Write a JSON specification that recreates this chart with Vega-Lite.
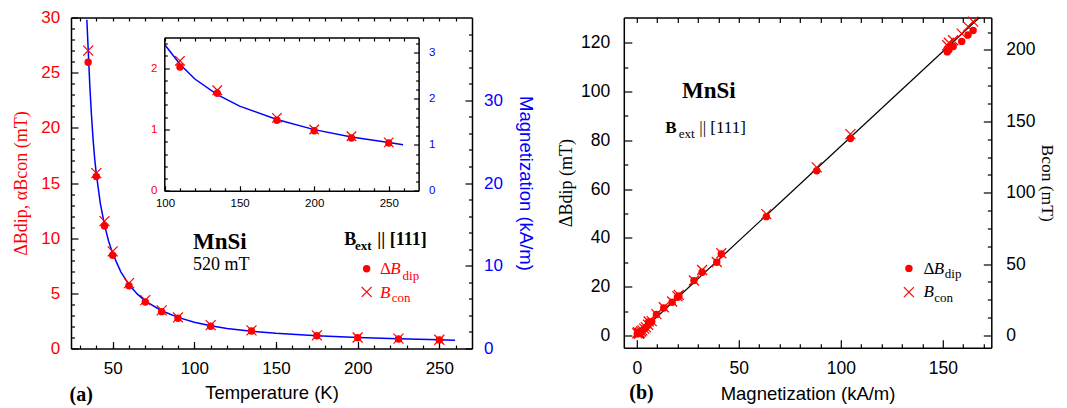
{
"$schema": "https://vega.github.io/schema/vega-lite/v6.json",
"padding": {"left": 12, "top": 8.5, "right": 0, "bottom": 0},
"background": "white",
"spacing": 151.8,
"bounds": "flush",
"datasets": {
 "tdep": [
  {"T":35,"dip":25.95,"con":27.0},{"T":40,"dip":15.6,"con":15.9},{"T":45,"dip":11.1,"con":11.55},{"T":50,"dip":8.45,"con":8.8},
  {"T":60,"dip":5.68,"con":5.93},{"T":70,"dip":4.22,"con":4.38},{"T":80,"dip":3.34,"con":3.45},{"T":90,"dip":2.74,"con":2.82},
  {"T":110,"dip":2.02,"con":2.12},{"T":135,"dip":1.59,"con":1.64},{"T":175,"dip":1.15,"con":1.19},{"T":200,"dip":0.98,"con":1.0},
  {"T":225,"dip":0.86,"con":0.89},{"T":250,"dip":0.78,"con":0.79}
 ],
 "curve": [
  {"T":34.2,"M":39.73},{"T":35,"M":36.27},{"T":36,"M":31.87},{"T":37,"M":28.27},{"T":38,"M":25.33},{"T":39,"M":22.93},
  {"T":40,"M":21.07},{"T":42.5,"M":17.47},{"T":45,"M":14.93},{"T":47.5,"M":13.0},{"T":50,"M":11.47},{"T":55,"M":9.27},
  {"T":60,"M":7.73},{"T":65,"M":6.6},{"T":70,"M":5.73},{"T":80,"M":4.56},{"T":90,"M":3.76},{"T":100,"M":3.17},
  {"T":110,"M":2.75},{"T":120,"M":2.43},{"T":135,"M":2.09},{"T":150,"M":1.84},{"T":175,"M":1.55},{"T":200,"M":1.33},
  {"T":225,"M":1.17},{"T":250,"M":1.05},{"T":259.6,"M":1.0}
 ],
 "mb": [
  {"M":164.9,"dip":125.0,"con":219.8},{"M":162.4,"dip":123.1,"con":216.3},{"M":159.3,"dip":120.5,"con":211.4},
  {"M":155.1,"dip":118.4,"con":206.8},{"M":153.0,"dip":117.0,"con":205.0},{"M":152.2,"dip":116.2,"con":203.3},
  {"M":104.7,"dip":80.7,"con":141.0},{"M":88.2,"dip":67.5,"con":117.7},{"M":63.5,"dip":48.7,"con":85.0},
  {"M":41.4,"dip":33.4,"con":57.6},{"M":39.2,"dip":30.0,"con":51.5},{"M":32.0,"dip":25.9,"con":45.9},
  {"M":28.0,"dip":22.5,"con":38.5},{"M":20.6,"dip":16.2,"con":28.4},{"M":19.9,"dip":15.7,"con":27.5},
  {"M":17.3,"dip":13.6,"con":23.8},{"M":13.2,"dip":11.3,"con":19.8},{"M":9.6,"dip":8.6,"con":15.0},
  {"M":7.3,"dip":5.7,"con":10.1},{"M":5.8,"dip":5.5,"con":9.8},{"M":5.5,"dip":4.2,"con":7.5},
  {"M":4.4,"dip":3.3,"con":5.9},{"M":3.6,"dip":2.7,"con":4.8},{"M":2.7,"dip":2.0,"con":3.6},
  {"M":2.1,"dip":1.6,"con":2.8},{"M":1.5,"dip":1.15,"con":2.0},{"M":1.3,"dip":1.0,"con":1.7},
  {"M":1.1,"dip":0.86,"con":1.5},{"M":1.0,"dip":0.78,"con":1.35},{"M":0.5,"dip":1.0,"con":2.4},{"M":0.2,"dip":0.7,"con":1.5}
 ],
 "fit": [{"M":0,"dB":0},{"M":168,"dB":130.3}]
},
"hconcat": [
 {
  "width": 401, "height": 331,
  "resolve": {"scale": {"x": "independent", "y": "independent"}, "axis": {"x": "independent", "y": "independent"}},
  "layer": [
   {"data": {"name": "curve"}, "mark": {"type": "line", "color": "#0000ff", "strokeWidth": 1.5},
    "encoding": {
     "x": {"field": "T", "type": "quantitative", "scale": {"domain": [24.5, 270], "nice": false, "zero": false},
           "axis": {"orient": "top", "values": [30,40,50,60,70,80,90,100,110,120,130,140,150,160,170,180,190,200,210,220,230,240,250,260], "labels": false, "tickSize": -3.5, "title": null}},
     "y": {"field": "M", "type": "quantitative", "scale": {"domain": [0, 40], "nice": false, "zero": false},
           "axis": {"orient": "right", "values": [0,10,20,30], "tickSize": -7, "labelPadding": 18.6, "labelColor": "#0000ff", "title": "Magnetization (kA/m)", "titleColor": "#0000ff", "titlePadding": 13}}}},
   {"data": {"name": "curve"}, "mark": {"type": "line", "opacity": 0},
    "encoding": {
     "x": {"field": "T", "type": "quantitative", "scale": {"domain": [24.5, 270], "nice": false, "zero": false}, "axis": null},
     "y": {"field": "M", "type": "quantitative", "scale": {"domain": [0, 40], "nice": false, "zero": false},
           "axis": {"orient": "right", "values": [2,4,6,8,12,14,16,18,22,24,26,28,32,34,36,38], "labels": false, "tickSize": -3.5, "domain": false, "title": null}}}},
   {"data": {"name": "tdep"}, "mark": {"type": "point", "shape": "M-1,-1L1,1M-1,1L1,-1", "filled": false, "color": "#ff0000", "strokeWidth": 1.2, "size": 100, "opacity": 1},
    "encoding": {
     "x": {"field": "T", "type": "quantitative", "scale": {"domain": [24.5, 270], "nice": false, "zero": false},
           "axis": {"orient": "bottom", "values": [30,40,50,60,70,80,90,100,110,120,130,140,150,160,170,180,190,200,210,220,230,240,250,260], "labels": false, "tickSize": -3.5, "domain": false, "title": null}},
     "y": {"field": "con", "type": "quantitative", "scale": {"domain": [0, 30], "nice": false, "zero": false},
           "axis": {"orient": "left", "values": [1,2,3,4,6,7,8,9,11,12,13,14,16,17,18,19,21,22,23,24,26,27,28,29], "labels": false, "tickSize": -3.5, "domain": false, "title": null}}}},
   {"data": {"name": "tdep"}, "mark": {"type": "point", "shape": "circle", "filled": true, "color": "#ff0000", "size": 55, "opacity": 1},
    "encoding": {
     "x": {"field": "T", "type": "quantitative", "scale": {"domain": [24.5, 270], "nice": false, "zero": false},
           "axis": {"orient": "bottom", "values": [50,100,150,200,250], "tickSize": -7, "labelPadding": 18.5, "title": "Temperature (K)", "titlePadding": 7.5}},
     "y": {"field": "dip", "type": "quantitative", "scale": {"domain": [0, 30], "nice": false, "zero": false},
           "axis": {"orient": "left", "values": [0,5,10,15,20,25,30], "tickSize": -7, "labelPadding": 18.4, "labelColor": "#ff0000", "title": "ΔBdip, αBcon (mT)", "titleColor": "#ff0000", "titleFont": "Liberation Serif", "titleFontSize": 18, "titlePadding": 10}}}},
   {"data": {"name": "curve"}, "transform": [{"filter": "datum.T >= 100"}], "mark": {"type": "line", "color": "#0000ff", "strokeWidth": 1.5},
    "encoding": {
     "x": {"field": "T", "type": "quantitative", "scale": {"domain": [99.5, 270], "range": [93.3, 347.6], "nice": false, "zero": false},
           "axis": {"orient": "top", "offset": -20, "values": [100,110,120,130,140,150,160,170,180,190,200,210,220,230,240,250,260], "labels": false, "tickSize": -3.5, "title": null}},
     "y": {"field": "M", "type": "quantitative", "scale": {"domain": [0, 3.3333], "range": [173.3, 20], "nice": false, "zero": false},
           "axis": {"orient": "right", "offset": -53.4, "values": [0,1,2,3], "tickSize": -5, "labelPadding": 15, "labelColor": "#0000ff", "labelFontSize": 11.5, "title": null}}}},
   {"data": {"name": "curve"}, "transform": [{"filter": "datum.T >= 100"}], "mark": {"type": "line", "opacity": 0},
    "encoding": {
     "x": {"field": "T", "type": "quantitative", "scale": {"domain": [99.5, 270], "range": [93.3, 347.6], "nice": false, "zero": false}, "axis": null},
     "y": {"field": "M", "type": "quantitative", "scale": {"domain": [0, 3.3333], "range": [173.3, 20], "nice": false, "zero": false},
           "axis": {"orient": "right", "offset": -53.4, "values": [0.2,0.4,0.6,0.8,1.2,1.4,1.6,1.8,2.2,2.4,2.6,2.8,3.2], "labels": false, "tickSize": -3, "domain": false, "title": null}}}},
   {"data": {"name": "tdep"}, "transform": [{"filter": "datum.T >= 100"}], "mark": {"type": "point", "shape": "M-1,-1L1,1M-1,1L1,-1", "filled": false, "color": "#ff0000", "strokeWidth": 1.2, "size": 90, "opacity": 1},
    "encoding": {
     "x": {"field": "T", "type": "quantitative", "scale": {"domain": [99.5, 270], "range": [93.3, 347.6], "nice": false, "zero": false},
           "axis": {"orient": "bottom", "offset": -157.7, "values": [110,120,130,140,160,170,180,190,210,220,230,240,260], "labels": false, "tickSize": -3, "domain": false, "title": null}},
     "y": {"field": "con", "type": "quantitative", "scale": {"domain": [0, 2.5], "range": [173.3, 20], "nice": false, "zero": false},
           "axis": {"orient": "left", "offset": -93.3, "values": [0.2,0.4,0.6,0.8,1.2,1.4,1.6,1.8,2.2,2.4], "labels": false, "tickSize": -3, "domain": false, "title": null}}}},
   {"data": {"name": "tdep"}, "transform": [{"filter": "datum.T >= 100"}], "mark": {"type": "point", "shape": "circle", "filled": true, "color": "#ff0000", "size": 55, "opacity": 1},
    "encoding": {
     "x": {"field": "T", "type": "quantitative", "scale": {"domain": [99.5, 270], "range": [93.3, 347.6], "nice": false, "zero": false},
           "axis": {"orient": "bottom", "offset": -157.7, "values": [100,150,200,250], "tickSize": -5, "labelPadding": 11.7, "labelFontSize": 11.5, "title": null}},
     "y": {"field": "dip", "type": "quantitative", "scale": {"domain": [0, 2.5], "range": [173.3, 20], "nice": false, "zero": false},
           "axis": {"orient": "left", "offset": -93.3, "values": [0,1,2], "tickSize": -5, "labelPadding": 12.3, "labelColor": "#ff0000", "labelFontSize": 11.5, "title": null}}}},
   {"data": {"values": [{"x": 99.2, "y": 9.02, "t": "MnSi"}]},
    "mark": {"type": "text", "font": "Liberation Serif", "fontSize": 23, "fontWeight": "bold", "align": "left", "baseline": "alphabetic", "color": "#000000"},
    "encoding": {"x": {"field": "x", "type": "quantitative", "scale": {"domain": [24.5, 270], "nice": false, "zero": false}, "axis": null},
                 "y": {"field": "y", "type": "quantitative", "scale": {"domain": [0, 30], "nice": false, "zero": false}, "axis": null},
                 "text": {"field": "t"}}},
   {"data": {"values": [{"x": 99.2, "y": 7.08, "t": "520 mT"}]},
    "mark": {"type": "text", "font": "Liberation Serif", "fontSize": 18, "align": "left", "baseline": "alphabetic", "color": "#000000"},
    "encoding": {"x": {"field": "x", "type": "quantitative", "scale": {"domain": [24.5, 270], "nice": false, "zero": false}, "axis": null},
                 "y": {"field": "y", "type": "quantitative", "scale": {"domain": [0, 30], "nice": false, "zero": false}, "axis": null},
                 "text": {"field": "t"}}},
   {"data": {"values": [{"x": 191.8, "y": 9.36, "t": "B"}, {"x": 212.0, "y": 9.36, "t": "|| [111]"}]},
    "mark": {"type": "text", "font": "Liberation Serif", "fontSize": 18, "fontWeight": "bold", "align": "left", "baseline": "alphabetic", "color": "#000000"},
    "encoding": {"x": {"field": "x", "type": "quantitative", "scale": {"domain": [24.5, 270], "nice": false, "zero": false}, "axis": null},
                 "y": {"field": "y", "type": "quantitative", "scale": {"domain": [0, 30], "nice": false, "zero": false}, "axis": null},
                 "text": {"field": "t"}}},
   {"data": {"values": [{"x": 198.3, "y": 8.9, "t": "ext"}]},
    "mark": {"type": "text", "font": "Liberation Serif", "fontSize": 13, "fontWeight": "bold", "align": "left", "baseline": "alphabetic", "color": "#000000"},
    "encoding": {"x": {"field": "x", "type": "quantitative", "scale": {"domain": [24.5, 270], "nice": false, "zero": false}, "axis": null},
                 "y": {"field": "y", "type": "quantitative", "scale": {"domain": [0, 30], "nice": false, "zero": false}, "axis": null},
                 "text": {"field": "t"}}},
   {"data": {"values": [{"x": 213.6, "y": 6.77, "t": "Δ"}]},
    "mark": {"type": "text", "font": "Liberation Serif", "fontSize": 17, "align": "left", "baseline": "alphabetic", "color": "#ff0000"},
    "encoding": {"x": {"field": "x", "type": "quantitative", "scale": {"domain": [24.5, 270], "nice": false, "zero": false}, "axis": null},
                 "y": {"field": "y", "type": "quantitative", "scale": {"domain": [0, 30], "nice": false, "zero": false}, "axis": null},
                 "text": {"field": "t"}}},
   {"data": {"values": [{"x": 220.0, "y": 6.77, "t": "B"}, {"x": 213.6, "y": 4.59, "t": "B"}]},
    "mark": {"type": "text", "font": "Liberation Serif", "fontSize": 17, "fontStyle": "italic", "align": "left", "baseline": "alphabetic", "color": "#ff0000"},
    "encoding": {"x": {"field": "x", "type": "quantitative", "scale": {"domain": [24.5, 270], "nice": false, "zero": false}, "axis": null},
                 "y": {"field": "y", "type": "quantitative", "scale": {"domain": [0, 30], "nice": false, "zero": false}, "axis": null},
                 "text": {"field": "t"}}},
   {"data": {"values": [{"x": 227.5, "y": 6.2, "t": "dip"}, {"x": 220.8, "y": 4.22, "t": "con"}]},
    "mark": {"type": "text", "font": "Liberation Serif", "fontSize": 13, "align": "left", "baseline": "alphabetic", "color": "#ff0000"},
    "encoding": {"x": {"field": "x", "type": "quantitative", "scale": {"domain": [24.5, 270], "nice": false, "zero": false}, "axis": null},
                 "y": {"field": "y", "type": "quantitative", "scale": {"domain": [0, 30], "nice": false, "zero": false}, "axis": null},
                 "text": {"field": "t"}}},
   {"data": {"values": [{"x": 205.5, "y": 7.23}]},
    "mark": {"type": "point", "shape": "circle", "filled": true, "color": "#ff0000", "size": 55, "opacity": 1},
    "encoding": {"x": {"field": "x", "type": "quantitative", "scale": {"domain": [24.5, 270], "nice": false, "zero": false}, "axis": null},
                 "y": {"field": "y", "type": "quantitative", "scale": {"domain": [0, 30], "nice": false, "zero": false}, "axis": null}}},
   {"data": {"values": [{"x": 205.5, "y": 5.13}]},
    "mark": {"type": "point", "shape": "M-1,-1L1,1M-1,1L1,-1", "filled": false, "color": "#ff0000", "strokeWidth": 1.2, "size": 100, "opacity": 1},
    "encoding": {"x": {"field": "x", "type": "quantitative", "scale": {"domain": [24.5, 270], "nice": false, "zero": false}, "axis": null},
                 "y": {"field": "y", "type": "quantitative", "scale": {"domain": [0, 30], "nice": false, "zero": false}, "axis": null}}},
   {"data": {"values": [{"x": 23.6, "y": -4.74, "t": "(a)"}]},
    "mark": {"type": "text", "font": "Liberation Serif", "fontSize": 20, "fontWeight": "bold", "align": "left", "baseline": "alphabetic", "color": "#000000"},
    "encoding": {"x": {"field": "x", "type": "quantitative", "scale": {"domain": [24.5, 270], "nice": false, "zero": false}, "axis": null},
                 "y": {"field": "y", "type": "quantitative", "scale": {"domain": [0, 30], "nice": false, "zero": false}, "axis": null},
                 "text": {"field": "t"}}}
  ]
 },
 {
  "width": 367.5, "height": 330.2,
  "resolve": {"scale": {"x": "independent", "y": "independent"}, "axis": {"x": "independent", "y": "independent"}},
  "layer": [
   {"data": {"name": "fit"}, "mark": {"type": "line", "color": "#000000", "strokeWidth": 1.2},
    "encoding": {
     "x": {"field": "M", "type": "quantitative", "scale": {"domain": [-6.4, 173.8], "nice": false, "zero": false},
           "axis": {"orient": "top", "values": [0,10,20,30,40,50,60,70,80,90,100,110,120,130,140,150,160,170], "labels": false, "tickSize": -5, "title": null}},
     "y": {"field": "dB", "type": "quantitative", "scale": {"domain": [-5, 130.3], "nice": false, "zero": false},
           "axis": {"orient": "left", "values": [10,30,50,70,90,110], "labels": false, "tickSize": -4, "domain": false, "title": null}}}},
   {"data": {"name": "mb"}, "mark": {"type": "point", "shape": "M-1,-1L1,1M-1,1L1,-1", "filled": false, "color": "#ff0000", "strokeWidth": 1.2, "size": 100, "opacity": 1},
    "encoding": {
     "x": {"field": "M", "type": "quantitative", "scale": {"domain": [-6.4, 173.8], "nice": false, "zero": false},
           "axis": {"orient": "bottom", "values": [10,20,30,40,60,70,80,90,110,120,130,140,160,170], "labels": false, "tickSize": -4, "domain": false, "title": null}},
     "y": {"field": "con", "type": "quantitative", "scale": {"domain": [-8.55, 222.7], "nice": false, "zero": false},
           "axis": {"orient": "right", "values": [0,50,100,150,200], "tickSize": -8, "labelPadding": 22.5, "labelFontSize": 17.5, "title": "Bcon (mT)", "titleFont": "Liberation Serif", "titleFontSize": 17.5, "titlePadding": 3}}}},
   {"data": {"name": "mb"}, "mark": {"type": "point", "opacity": 0},
    "encoding": {
     "x": {"field": "M", "type": "quantitative", "scale": {"domain": [-6.4, 173.8], "nice": false, "zero": false}, "axis": null},
     "y": {"field": "con", "type": "quantitative", "scale": {"domain": [-8.55, 222.7], "nice": false, "zero": false},
           "axis": {"orient": "right", "values": [12.5,25,37.5,62.5,75,87.5,112.5,125,137.5,162.5,175,187.5,212.5], "labels": false, "tickSize": -4, "domain": false, "title": null}}}},
   {"data": {"name": "mb"}, "mark": {"type": "point", "shape": "circle", "filled": true, "color": "#ff0000", "size": 55, "opacity": 1},
    "encoding": {
     "x": {"field": "M", "type": "quantitative", "scale": {"domain": [-6.4, 173.8], "nice": false, "zero": false},
           "axis": {"orient": "bottom", "values": [0,50,100,150], "tickSize": -8, "labelPadding": 19.5, "labelFontSize": 17.5, "title": "Magnetization (kA/m)", "titlePadding": 7.5}},
     "y": {"field": "dip", "type": "quantitative", "scale": {"domain": [-5, 130.3], "nice": false, "zero": false},
           "axis": {"orient": "left", "values": [0,20,40,60,80,100,120], "tickSize": -8, "labelPadding": 22, "labelFontSize": 17.5, "title": "ΔBdip (mT)", "titleFont": "Liberation Serif", "titleFontSize": 18, "titlePadding": 5}}}},
   {"data": {"values": [{"x": 22.1, "y": 97.5, "t": "MnSi"}]},
    "mark": {"type": "text", "font": "Liberation Serif", "fontSize": 23, "fontWeight": "bold", "align": "left", "baseline": "alphabetic", "color": "#000000"},
    "encoding": {"x": {"field": "x", "type": "quantitative", "scale": {"domain": [-6.4, 173.8], "nice": false, "zero": false}, "axis": null},
                 "y": {"field": "y", "type": "quantitative", "scale": {"domain": [-5, 130.3], "nice": false, "zero": false}, "axis": null},
                 "text": {"field": "t"}}},
   {"data": {"values": [{"x": 13.95, "y": 83.1, "t": "B"}]},
    "mark": {"type": "text", "font": "Liberation Serif", "fontSize": 17, "fontWeight": "bold", "align": "left", "baseline": "alphabetic", "color": "#000000"},
    "encoding": {"x": {"field": "x", "type": "quantitative", "scale": {"domain": [-6.4, 173.8], "nice": false, "zero": false}, "axis": null},
                 "y": {"field": "y", "type": "quantitative", "scale": {"domain": [-5, 130.3], "nice": false, "zero": false}, "axis": null},
                 "text": {"field": "t"}}},
   {"data": {"values": [{"x": 30.6, "y": 83.1, "t": "|| [111]"}, {"x": 140.5, "y": 25.3, "t": "Δ"}]},
    "mark": {"type": "text", "font": "Liberation Serif", "fontSize": 17, "align": "left", "baseline": "alphabetic", "color": "#000000"},
    "encoding": {"x": {"field": "x", "type": "quantitative", "scale": {"domain": [-6.4, 173.8], "nice": false, "zero": false}, "axis": null},
                 "y": {"field": "y", "type": "quantitative", "scale": {"domain": [-5, 130.3], "nice": false, "zero": false}, "axis": null},
                 "text": {"field": "t"}}},
   {"data": {"values": [{"x": 20.5, "y": 81.1, "t": "ext"}, {"x": 151.0, "y": 23.7, "t": "dip"}, {"x": 145.8, "y": 13.9, "t": "con"}]},
    "mark": {"type": "text", "font": "Liberation Serif", "fontSize": 13, "align": "left", "baseline": "alphabetic", "color": "#000000"},
    "encoding": {"x": {"field": "x", "type": "quantitative", "scale": {"domain": [-6.4, 173.8], "nice": false, "zero": false}, "axis": null},
                 "y": {"field": "y", "type": "quantitative", "scale": {"domain": [-5, 130.3], "nice": false, "zero": false}, "axis": null},
                 "text": {"field": "t"}}},
   {"data": {"values": [{"x": 145.6, "y": 25.3, "t": "B"}, {"x": 140.5, "y": 15.8, "t": "B"}]},
    "mark": {"type": "text", "font": "Liberation Serif", "fontSize": 17, "fontStyle": "italic", "align": "left", "baseline": "alphabetic", "color": "#000000"},
    "encoding": {"x": {"field": "x", "type": "quantitative", "scale": {"domain": [-6.4, 173.8], "nice": false, "zero": false}, "axis": null},
                 "y": {"field": "y", "type": "quantitative", "scale": {"domain": [-5, 130.3], "nice": false, "zero": false}, "axis": null},
                 "text": {"field": "t"}}},
   {"data": {"values": [{"x": 133.4, "y": 27.5}]},
    "mark": {"type": "point", "shape": "circle", "filled": true, "color": "#ff0000", "size": 55, "opacity": 1},
    "encoding": {"x": {"field": "x", "type": "quantitative", "scale": {"domain": [-6.4, 173.8], "nice": false, "zero": false}, "axis": null},
                 "y": {"field": "y", "type": "quantitative", "scale": {"domain": [-5, 130.3], "nice": false, "zero": false}, "axis": null}}},
   {"data": {"values": [{"x": 133.4, "y": 17.8}]},
    "mark": {"type": "point", "shape": "M-1,-1L1,1M-1,1L1,-1", "filled": false, "color": "#ff0000", "strokeWidth": 1.2, "size": 100, "opacity": 1},
    "encoding": {"x": {"field": "x", "type": "quantitative", "scale": {"domain": [-6.4, 173.8], "nice": false, "zero": false}, "axis": null},
                 "y": {"field": "y", "type": "quantitative", "scale": {"domain": [-5, 130.3], "nice": false, "zero": false}, "axis": null}}},
   {"data": {"values": [{"x": -3.7, "y": -26.1, "t": "(b)"}]},
    "mark": {"type": "text", "font": "Liberation Serif", "fontSize": 20, "fontWeight": "bold", "align": "left", "baseline": "alphabetic", "color": "#000000"},
    "encoding": {"x": {"field": "x", "type": "quantitative", "scale": {"domain": [-6.4, 173.8], "nice": false, "zero": false}, "axis": null},
                 "y": {"field": "y", "type": "quantitative", "scale": {"domain": [-5, 130.3], "nice": false, "zero": false}, "axis": null},
                 "text": {"field": "t"}}}
  ]
 }
],
"config": {
 "view": {"stroke": null},
 "axis": {"grid": false, "domainColor": "#000000", "domainWidth": 1.5, "tickColor": "#000000", "tickWidth": 1.2,
          "labelFont": "Liberation Sans", "labelFontSize": 17, "labelColor": "#000000", "labelFlush": false, "labelOverlap": false,
          "titleFont": "Liberation Sans", "titleFontSize": 18.5, "titleFontWeight": "normal", "titleColor": "#000000"}
}
}
